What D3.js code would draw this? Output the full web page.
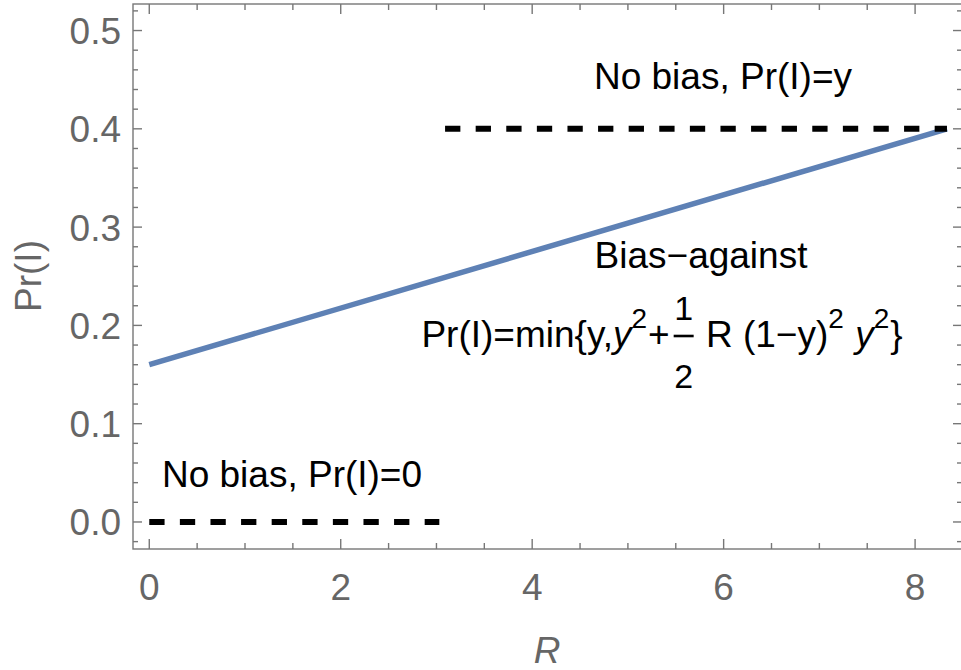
<!DOCTYPE html>
<html>
<head>
<meta charset="utf-8">
<script src="https://cdn.jsdelivr.net/npm/d3@7"></script>
<style>
  html, body { margin: 0; padding: 0; background: #fff; }
  svg { display: block; font-family: "Liberation Sans", Arial, sans-serif; }
</style>
</head>
<body>
<svg id="chart" width="961" height="670"></svg>
<script>
// ---- data ----
const xTicks = [0, 2, 4, 6, 8];
const xMinorTicks = [0.5, 1, 1.5, 2.5, 3, 3.5, 4.5, 5, 5.5, 6.5, 7, 7.5, 8.5];
const yTicks = [0, 0.1, 0.2, 0.3, 0.4, 0.5];
const yMinorTicks = [-0.02, 0.02, 0.04, 0.06, 0.08, 0.12, 0.14, 0.16, 0.18, 0.22, 0.24, 0.26, 0.28,
                     0.32, 0.34, 0.36, 0.38, 0.42, 0.44, 0.46, 0.48, 0.52];
const yTickLabels = ["0.0", "0.1", "0.2", "0.3", "0.4", "0.5"];
const xTickLabels = ["0", "2", "4", "6", "8"];

const biasR = [0, 8.333];
const biasPr = [0.16, 0.4];
const noBiasZeroR = [0, 3.03];
const noBiasZeroPr = [0, 0];
const noBiasYR = [3.09, 8.333];
const noBiasYPr = [0.4, 0.4];

// ---- layout ----
const svg = d3.select("#chart");
const padL = 133, padR = 962, padT = 4, padB = 549;
const x = d3.scaleLinear().domain([-0.17, 8.49]).range([padL, padR]);
const y = d3.scaleLinear().domain([-0.0275, 0.527]).range([padB, padT]);

const gray = "#666";
const fs = 37;

// frame
svg.append("rect").attr("x", padL).attr("y", padT)
  .attr("width", padR - padL).attr("height", padB - padT)
  .attr("fill", "none").attr("stroke", "#777").attr("stroke-width", 1.4);

const tickStroke = "#777";
function hTicks(vals, len) {
  vals.forEach(v => {
    svg.append("line").attr("x1", x(v)).attr("x2", x(v)).attr("y1", padB).attr("y2", padB - len)
      .attr("stroke", tickStroke).attr("stroke-width", 1.4);
    svg.append("line").attr("x1", x(v)).attr("x2", x(v)).attr("y1", padT).attr("y2", padT + len)
      .attr("stroke", tickStroke).attr("stroke-width", 1.4);
  });
}
function vTicks(vals, len) {
  vals.forEach(v => {
    svg.append("line").attr("y1", y(v)).attr("y2", y(v)).attr("x1", padL).attr("x2", padL + len)
      .attr("stroke", tickStroke).attr("stroke-width", 1.4);
    svg.append("line").attr("y1", y(v)).attr("y2", y(v)).attr("x1", padR).attr("x2", padR - len)
      .attr("stroke", tickStroke).attr("stroke-width", 1.4);
  });
}
hTicks(xTicks, 10); hTicks(xMinorTicks, 6);
vTicks(yTicks, 9); vTicks(yMinorTicks, 5);

// tick labels
svg.append("g").selectAll("text").data(xTicks).join("text")
  .attr("x", d => x(d)).attr("y", 600)
  .attr("text-anchor", "middle").attr("font-size", fs).attr("fill", gray)
  .text((d, i) => xTickLabels[i]);
svg.append("g").selectAll("text").data(yTicks).join("text")
  .attr("x", 121).attr("y", d => y(d) + 13.5)
  .attr("text-anchor", "end").attr("font-size", fs).attr("fill", gray)
  .text((d, i) => yTickLabels[i]);

// axis labels
svg.append("text").attr("x", 547).attr("y", 663).attr("text-anchor", "middle")
  .attr("font-size", fs).attr("font-style", "italic").attr("fill", gray).text("R");
svg.append("text").attr("transform", "translate(41,276) rotate(-90)").attr("text-anchor", "middle")
  .attr("font-size", fs).attr("fill", gray).text("Pr(I)");

// lines
const line = d3.line().x(d => x(d[0])).y(d => y(d[1]));
svg.append("path").datum(biasR.map((r, i) => [r, biasPr[i]]))
  .attr("d", line).attr("fill", "none").attr("stroke", "#5E81B5").attr("stroke-width", 5.5);
svg.append("path").datum(noBiasZeroR.map((r, i) => [r, noBiasZeroPr[i]]))
  .attr("d", line).attr("fill", "none").attr("stroke", "#000").attr("stroke-width", 6)
  .attr("stroke-dasharray", "15.3,15.3");
svg.append("path").datum(noBiasYR.map((r, i) => [r, noBiasYPr[i]]))
  .attr("d", line).attr("fill", "none").attr("stroke", "#000").attr("stroke-width", 6)
  .attr("stroke-dasharray", "15.3,15.3");

// annotations
svg.append("text").attr("x", 723).attr("y", 89).attr("text-anchor", "middle")
  .attr("font-size", fs).attr("fill", "#000").text("No bias, Pr(I)=y");
svg.append("text").attr("x", 292).attr("y", 487).attr("text-anchor", "middle")
  .attr("font-size", fs).attr("fill", "#000").text("No bias, Pr(I)=0");
svg.append("text").attr("x", 701).attr("y", 268).attr("text-anchor", "middle")
  .attr("font-size", fs).attr("fill", "#000").text("Bias\u2212against");

// formula
const pieces = [
  { t: "Pr(I)=min{y," },
  { t: "y", it: true },
  { t: "2", sup: true },
  { t: "+" },
  { frac: ["1", "2"], w: 26 },
  { t: " R (1\u2212y)" },
  { t: "2", sup: true },
  { t: " " },
  { t: "y", it: true },
  { t: "2", sup: true },
  { t: "}" }
];
const fg = svg.append("g");
const base = 347;
let cx = 0;
pieces.forEach(p => {
  if (p.frac) {
    const w = p.w;
    fg.append("line").attr("x1", cx + 4).attr("x2", cx + w - 2).attr("y1", base - 11).attr("y2", base - 11)
      .attr("stroke", "#000").attr("stroke-width", 2.6);
    const mid = cx + 1 + w / 2;
    fg.append("text").attr("x", mid).attr("y", 320).attr("text-anchor", "middle")
      .attr("font-size", 34).attr("fill", "#000").text(p.frac[0]);
    fg.append("text").attr("x", mid).attr("y", 388).attr("text-anchor", "middle")
      .attr("font-size", 34).attr("fill", "#000").text(p.frac[1]);
    cx += w;
    return;
  }
  const el = fg.append("text").attr("x", cx).attr("y", p.sup ? base - 19 : base)
    .attr("font-size", p.sup ? 28 : fs).attr("fill", "#000")
    .attr("font-style", p.it ? "italic" : "normal")
    .style("white-space", "pre")
    .text(p.t);
  const w = el.node().getComputedTextLength();
  cx += w + (p.sup ? 1 : 0);
});
const totalW = cx;
fg.attr("transform", `translate(${662 - totalW / 2},0)`);
</script>
</body>
</html>
